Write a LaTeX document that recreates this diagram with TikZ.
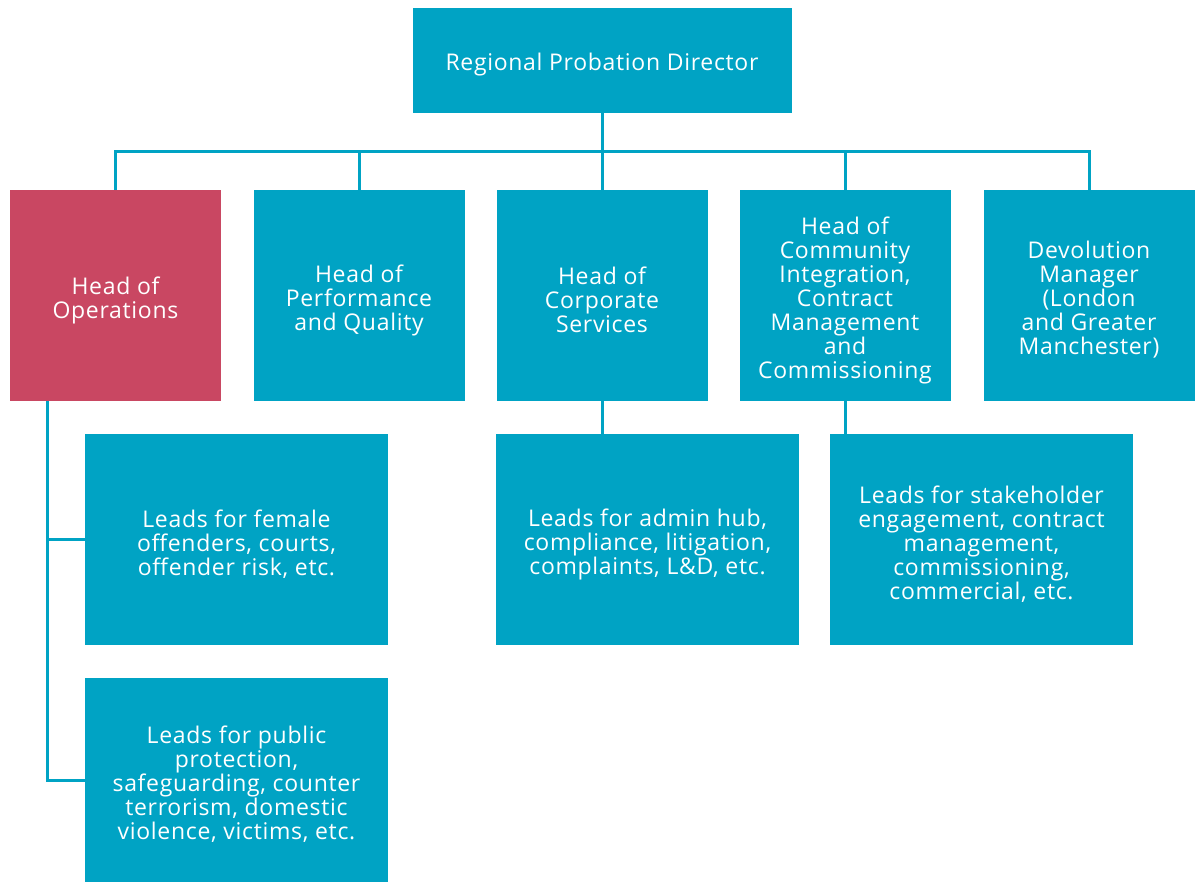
\documentclass[tikz,border=0pt]{standalone}
\usepackage{fontspec}
\setmainfont{Open Sans}[LetterSpace=3]
\definecolor{teal}{HTML}{00A3C4}
\definecolor{rose}{HTML}{C94762}
\newcommand\orgbox[5]{%
  \node[#4] (#1) at (#2,#3) {};
  \node[txt] (#1-t) at ([yshift=-2.25pt]#1.center) {#5};}
\begin{document}
\begin{tikzpicture}[x=0.5pt,y=-0.5pt,
  box/.style={fill=teal,inner sep=0pt},
  txt/.style={text=white,inner sep=0pt,align=center,
    font=\fontsize{11.5}{12}\selectfont},
  sq/.style={box,minimum width=105.5pt,minimum height=105.5pt},
  lead/.style={box,minimum width=151.5pt,minimum height=105.5pt},
  link/.style={draw=teal,line width=1.5pt}]
\useasboundingbox (0,0) rectangle (1200,883);
\orgbox{top}{602}{60.5}{box,minimum width=189.5pt,minimum height=52.5pt}{Regional Probation Director}
\orgbox{ops}{115.5}{295.5}{sq,fill=rose}{Head of\\Operations}
\orgbox{perf}{359}{295.5}{sq}{Head of\\Performance\\and Quality}
\orgbox{corp}{602}{295.5}{sq}{Head of\\Corporate\\Services}
\orgbox{comm}{845}{295.5}{sq}{Head of\\Community\\Integration,\\Contract\\Management\\and\\Commissioning}
\orgbox{devol}{1089}{295.5}{sq}{Devolution\\Manager\\(London\\and Greater\\Manchester)}
\orgbox{lead1}{236.5}{539.5}{lead}{Leads for female\\offenders, courts,\\offender risk, etc.}
\orgbox{lead2}{236.5}{780}{lead,minimum height=102pt}{Leads for public\\protection,\\safeguarding, counter\\terrorism, domestic\\violence, victims, etc.}
\orgbox{admin}{647.5}{539.5}{lead}{Leads for admin hub,\\compliance, litigation,\\complaints, L\&D, etc.}
\orgbox{stake}{981.5}{539.5}{lead}{Leads for stakeholder\\engagement, contract\\management,\\commissioning,\\commercial, etc.}
\coordinate (bar) at (0,152);
\coordinate (spine) at (47,0);
\draw[link] (ops.north) |- (devol.north |- bar) -- (devol.north);
\draw[link] (top.south) -- (corp.north);
\draw[link] (perf.north) -- (perf.north |- bar);
\draw[link] (comm.north) -- (comm.north |- bar);
\draw[link] (spine |- ops.south) |- (lead2.west);
\draw[link] (spine |- lead1.west) -- (lead1.west);
\draw[link] (corp.south) -- (corp.south |- admin.north);
\draw[link] (comm.south) -- (comm.south |- stake.north);
\end{tikzpicture}
\end{document}
